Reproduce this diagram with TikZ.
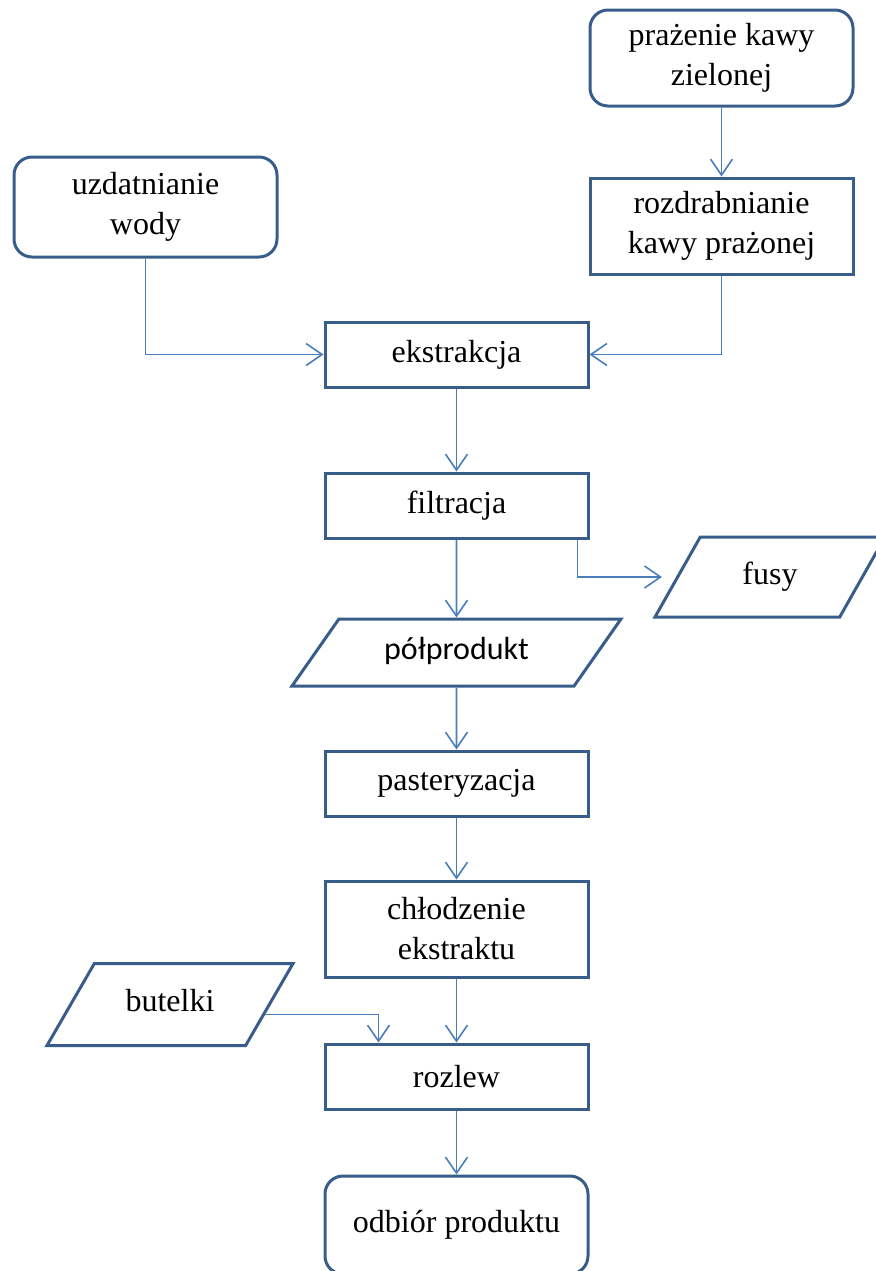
\documentclass[tikz,border=0pt]{standalone}
\usepackage{fontspec}
\setmainfont{Liberation Serif}
\newfontfamily\calfont{Carlito}
\usetikzlibrary{arrows.meta, positioning, shapes.geometric}
\definecolor{boxborder}{RGB}{56,93,138}
\definecolor{arrline}{RGB}{74,126,187}
\tikzset{
  proc/.style={rectangle, draw=boxborder, line width=1.5pt, fill=white,
               minimum width=131.5pt, minimum height=32.5pt, inner sep=0pt,
               align=center, font=\fontsize{16}{20}\selectfont},
  proctall/.style={proc, minimum height=48pt},
  endbox/.style={proc, rounded corners=9pt, minimum height=48pt},
  databox/.style={trapezium, trapezium stretches body, draw=boxborder, line width=1.5pt,
               fill=white, inner xsep=0pt, text height=11pt, text depth=4pt,
               align=center, font=\fontsize{16}{20}\selectfont},
  arr/.style={-{Straight Barb[length=8pt, width=11pt]}, line width=0.8pt, draw=arrline}
}

\begin{document}
\begin{tikzpicture}
\useasboundingbox (0,0) rectangle (437.5pt,-635.5pt);
\node[endbox] (pra) at (360.75pt,-29pt) {prażenie kawy\\zielonej};
\node[proctall, below=34.5pt of pra] (roz) {rozdrabnianie\\kawy prażonej};
\node[endbox, minimum height=50pt] (uzd) at (72.75pt,-103.5pt) {uzdatnianie\\wody};
\node[proc] (ekstr) at (228.25pt,-177.25pt) {ekstrakcja};
\node[proc, below=41.5pt of ekstr] (filtr) {filtracja};
\node[databox, trapezium left angle=55, trapezium right angle=125, inner ysep=9.25pt,
      minimum width=164.5pt, below=39pt of filtr,
      font=\fontsize{16}{20}\calfont] (pol) {półprodukt};
\node[proc, below=31pt of pol] (past) {pasteryzacja};
\node[proctall, below=31pt of past] (chl) {chłodzenie\\ekstraktu};
\node[proc, below=32pt of chl] (rozl) {rozlew};
\node[endbox, minimum height=49pt, below=32pt of rozl] (odb) {odbiór produktu};
\node[databox, trapezium left angle=60.5, trapezium right angle=119.5, inner ysep=12.5pt,
      minimum width=115pt] (fusy) at (385pt,-288.5pt) {fusy};
\node[databox, trapezium left angle=60, trapezium right angle=120, inner ysep=13pt,
      minimum width=123pt] (but) at (85pt,-502.25pt) {butelki};
\draw[arr] (pra) -- (roz);
\draw[arr] (roz) |- (ekstr);
\draw[arr] (uzd) |- (ekstr);
\draw[arr] (ekstr) -- (filtr);
\draw[arr] (filtr) -- (pol);
\draw[arr, shorten >=7pt] ([xshift=-6pt]filtr.south east) |- (fusy);
\draw[arr] (pol) -- (past);
\draw[arr] (past) -- (chl);
\draw[arr] (chl) -- (rozl);
\draw[arr] ([shift={(-3pt,-5pt)}]but.right side) -| ([xshift=-39pt]rozl.north);
\draw[arr] (rozl) -- (odb);
\end{tikzpicture}
\end{document}
